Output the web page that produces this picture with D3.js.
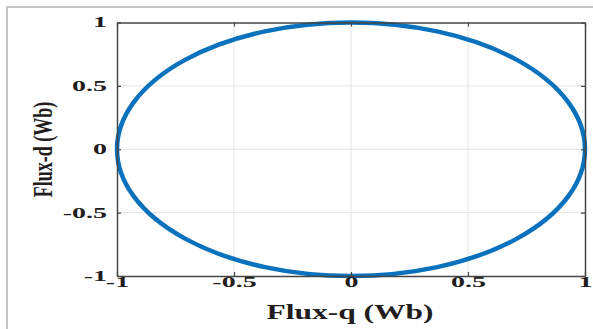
<!DOCTYPE html>
<html>
<head>
<meta charset="utf-8">
<script src="https://cdn.jsdelivr.net/npm/d3@7"></script>
<style>
  body { margin: 0; background: #fff; }
  text { font-family: "Liberation Serif", "Times New Roman", serif; font-weight: bold; fill: #221c1c; }
</style>
</head>
<body>
<div id="chart"></div>
<script>
// axis limits and ticks
var qDomain = [-1, 1],
    dDomain = [-1, 1];
var qTicks = [-1, -0.5, 0, 0.5, 1];
var dTicks = [-1, -0.5, 0, 0.5, 1];
var qTickLabels = ["-1", "-0.5", "0", "0.5", "1"];
var dTickLabels = ["-1", "-0.5", "0", "0.5", "1"];

// flux trajectory: centre and radius (Wb)
var fluxCentre = [0, 0];
var fluxRadius = [1];

var W = 593, H = 329;
var margin = {top: 22.5, right: 8, bottom: 53, left: 117},
    width = W - margin.left - margin.right,
    height = H - margin.top - margin.bottom;

var root = d3.select("#chart")
    .append("svg")
        .attr("width", W)
        .attr("height", H);

// outer frame (top and left edges only)
root.append("path")
    .attr("d", "M7,329 V7 H593")
    .attr("fill", "none")
    .attr("stroke", "#c4c4c4")
    .attr("stroke-width", 2);

var svg = root.append("g")
    .attr("transform", "translate(" + margin.left + "," + margin.top + ")");

var x = d3.scaleLinear().domain(qDomain).range([0, width]);
var y = d3.scaleLinear().domain(dDomain).range([height, 0]);

// grid
svg.append("g")
  .selectAll("line")
  .data(qTicks.slice(1, -1))
  .enter().append("line")
    .attr("x1", function(d) { return x(d); })
    .attr("x2", function(d) { return x(d); })
    .attr("y1", 0).attr("y2", height)
    .attr("stroke", "#e3e3e3").attr("stroke-width", 1);

svg.append("g")
  .selectAll("line")
  .data(dTicks.slice(1, -1))
  .enter().append("line")
    .attr("y1", function(d) { return y(d); })
    .attr("y2", function(d) { return y(d); })
    .attr("x1", 0).attr("x2", width)
    .attr("stroke", "#e3e3e3").attr("stroke-width", 1);

// flux locus
svg.selectAll("ellipse.flux")
  .data(fluxRadius)
  .enter().append("ellipse")
    .attr("class", "flux")
    .attr("cx", x(fluxCentre[0]))
    .attr("cy", y(fluxCentre[1]))
    .attr("rx", function(r) { return x(r) - x(0); })
    .attr("ry", function(r) { return y(0) - y(r); })
    .attr("fill", "none")
    .attr("stroke", "#0a72bd")
    .attr("stroke-width", 4.5);

// axes (inward ticks, box)
function styleAxis(g) {
  g.select(".domain").attr("stroke", "#454545").attr("stroke-width", 1.5);
  g.selectAll(".tick line").attr("stroke", "#454545").attr("stroke-width", 1.2);
}

var xAxis = svg.append("g")
    .attr("transform", "translate(0," + height + ")")
    .call(d3.axisBottom(x).tickValues(qTicks).tickSizeInner(-4).tickSizeOuter(0)
        .tickFormat(function(d, i) { return qTickLabels[i]; }));
styleAxis(xAxis);
xAxis.selectAll("text")
    .attr("y", 10).attr("dy", "0")
    .attr("transform", "translate(0,10.5) scale(2,1)")
    .attr("y", 0)
    .style("font-size", "14px").style("fill", "#221c1c");

var yAxis = svg.append("g")
    .call(d3.axisLeft(y).tickValues(dTicks).tickSizeInner(-4).tickSizeOuter(0)
        .tickFormat(function(d, i) { return dTickLabels[i]; }));
styleAxis(yAxis);
yAxis.selectAll("text")
    .attr("x", -5)
    .attr("transform", "scale(2,1)")
    .style("font-size", "14px").style("fill", "#221c1c");

var xTop = svg.append("g")
    .call(d3.axisTop(x).tickValues(qTicks).tickSizeInner(-4).tickSizeOuter(0).tickFormat(""));
styleAxis(xTop);

var yRight = svg.append("g")
    .attr("transform", "translate(" + width + ",0)")
    .call(d3.axisRight(y).tickValues(dTicks).tickSizeInner(-4).tickSizeOuter(0).tickFormat(""));
styleAxis(yRight);

// axis titles
root.append("text")
    .attr("transform", "translate(350,318.5) scale(1.5,1)")
    .attr("text-anchor", "middle")
    .style("font-size", "21px")
    .text("Flux-q (Wb)");

root.append("text")
    .attr("transform", "translate(51.5,149.5) rotate(-90) scale(1,1.5)")
    .attr("text-anchor", "middle")
    .style("font-size", "18px")
    .text("Flux-d (Wb)");
</script>
</body>
</html>
